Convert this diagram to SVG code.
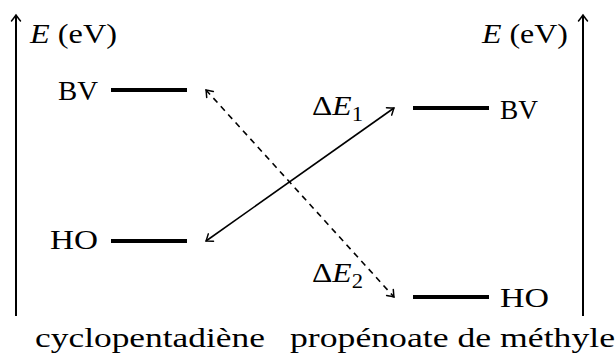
<svg xmlns="http://www.w3.org/2000/svg" width="616" height="356" viewBox="0 0 616 356">
<style>
text{font-family:"Liberation Serif","Times New Roman",serif;font-size:28px;fill:#000}
.it{font-style:italic}
.sub{font-size:20px}
.lvl{stroke:#000;stroke-width:4;fill:none}
.axis{stroke:#000;stroke-width:2;fill:none}
.conn{stroke:#000;stroke-width:1.6;fill:none}
.dash{stroke-dasharray:6 5}
</style>
<defs>
<marker id="to" viewBox="-8 -6 10 12" refX="0" refY="0" markerWidth="10" markerHeight="12" markerUnits="userSpaceOnUse" orient="auto-start-reverse">
<path d="M-6,-4.5 Q-1.5,-1 0,0 Q-1.5,1 -6,4.5" fill="none" stroke="#000" stroke-width="1.5" stroke-linecap="round"/>
</marker>
</defs>

<g id="axis-left">
<line class="axis" x1="16" y1="316" x2="16" y2="15" marker-end="url(#to)"/>
<text x="30" y="43" textLength="87" lengthAdjust="spacingAndGlyphs"><tspan class="it">E</tspan> (eV)</text>
</g>
<g id="axis-right">
<line class="axis" x1="583" y1="316" x2="583" y2="15" marker-end="url(#to)"/>
<text x="482" y="43" textLength="86" lengthAdjust="spacingAndGlyphs"><tspan class="it">E</tspan> (eV)</text>
</g>

<g id="cp-BV">
<text x="58" y="100" textLength="40" lengthAdjust="spacingAndGlyphs">BV</text>
<line class="lvl" x1="111" y1="90" x2="187" y2="90"/>
</g>
<g id="cp-HO">
<text x="50" y="249" textLength="48" lengthAdjust="spacingAndGlyphs">HO</text>
<line class="lvl" x1="111" y1="241" x2="187" y2="241"/>
</g>
<g id="mp-BV">
<line class="lvl" x1="413" y1="108" x2="489" y2="108"/>
<text x="500" y="119" textLength="38" lengthAdjust="spacingAndGlyphs">BV</text>
</g>
<g id="mp-HO">
<line class="lvl" x1="413" y1="297" x2="489" y2="297"/>
<text x="500" y="307" textLength="49" lengthAdjust="spacingAndGlyphs">HO</text>
</g>

<g id="connectors">
<line class="conn" x1="206" y1="241" x2="394" y2="108" marker-start="url(#to)" marker-end="url(#to)"/>
<line class="conn dash" x1="206" y1="90" x2="394" y2="297" marker-start="url(#to)" marker-end="url(#to)"/>
<text x="312" y="115" textLength="51" lengthAdjust="spacingAndGlyphs">Δ<tspan class="it">E</tspan><tspan class="sub" dy="6">1</tspan></text>
<text x="312" y="282" textLength="51" lengthAdjust="spacingAndGlyphs">Δ<tspan class="it">E</tspan><tspan class="sub" dy="6">2</tspan></text>
</g>

<g id="labels">
<text x="35" y="347" textLength="230" lengthAdjust="spacingAndGlyphs">cyclopentadiène</text>
<text x="290" y="347" textLength="325" lengthAdjust="spacingAndGlyphs">propénoate de méthyle</text>
</g>
</svg>
